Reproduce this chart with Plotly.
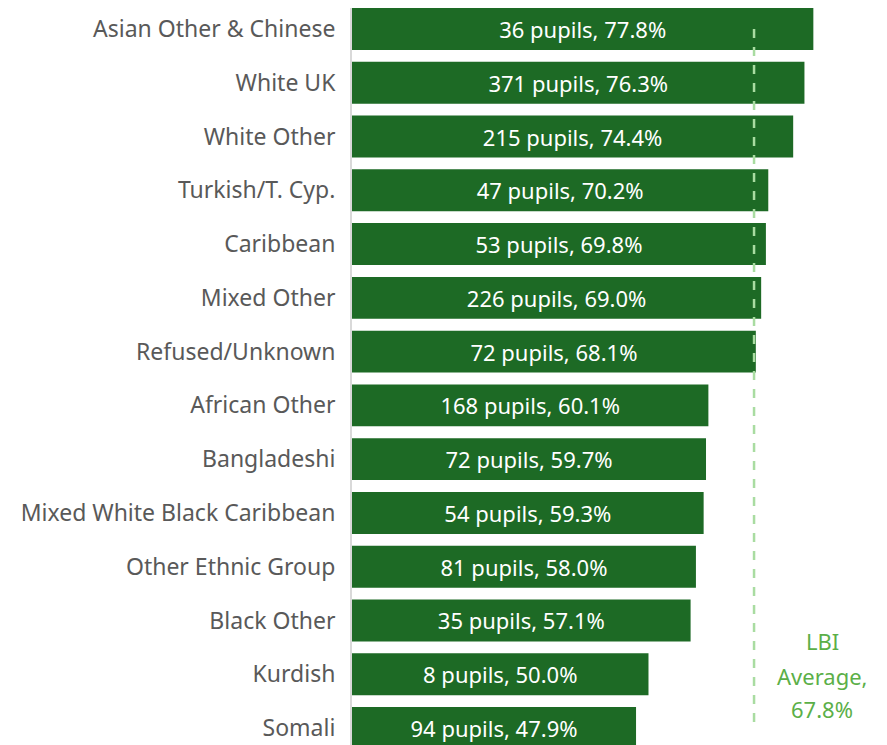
import plotly.graph_objects as go

categories = ["Asian Other & Chinese", "White UK", "White Other", "Turkish/T. Cyp.",
              "Caribbean", "Mixed Other", "Refused/Unknown", "African Other",
              "Bangladeshi", "Mixed White Black Caribbean", "Other Ethnic Group",
              "Black Other", "Kurdish", "Somali"]
pupils = [36, 371, 215, 47, 53, 226, 72, 168, 72, 54, 81, 35, 8, 94]
percent = [77.8, 76.3, 74.4, 70.2, 69.8, 69.0, 68.1, 60.1, 59.7, 59.3, 58.0, 57.1, 50.0, 47.9]
lbi_average = 67.8
avg_lines = ["LBI", "Average,", "67.8%"]

ypos = list(range(len(categories)))
labels = [f"{p} pupils, {v:.1f}%" for p, v in zip(pupils, percent)]

FONT = "Noto Sans"

fig = go.Figure()
fig.add_trace(go.Bar(
    x=percent, y=ypos, orientation="h",
    marker=dict(color="#1D6A25", line=dict(width=0)),
    width=0.78,
    text=labels, textposition="inside", insidetextanchor="middle",
    textfont=dict(color="white", size=22, family=FONT),
    hoverinfo="skip",
))
fig.add_trace(go.Scatter(
    x=[lbi_average, lbi_average], y=[0, 13], mode="lines",
    line=dict(color="#A9DCA1", width=2.5, dash="dash"),
    hoverinfo="skip",
))
for txt, yy in zip(avg_lines, [11.38, 12.03, 12.65]):
    fig.add_annotation(
        x=79.26, y=yy, xref="x", yref="y",
        text=txt, showarrow=False,
        font=dict(color="#5BAF48", size=22, family=FONT),
        align="center",
    )
fig.update_layout(
    width=887, height=745,
    margin=dict(l=344, r=0, t=0, b=0),
    plot_bgcolor="white", paper_bgcolor="white",
    showlegend=False,
    xaxis=dict(range=[0, 91.57], showgrid=False, showticklabels=False, zeroline=False,
               showline=False),
    yaxis=dict(range=[13.465, -0.3906], tickmode="array", tickvals=ypos, ticktext=categories,
               showgrid=False, zeroline=False, showline=True, linecolor="#D9D9D9", linewidth=2,
               ticks="", ticklabelstandoff=10,
               tickfont=dict(size=23, color="#595959", family=FONT)),
)
fig.write_html("out.html")
